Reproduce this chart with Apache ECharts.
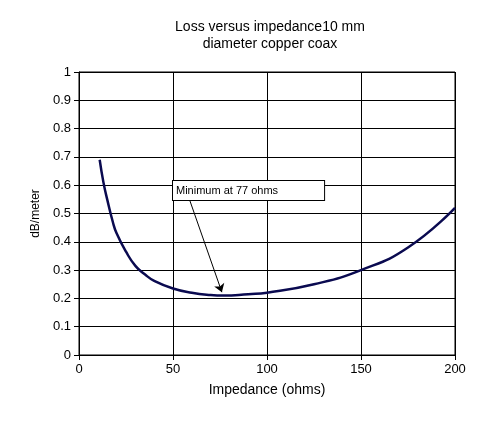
<!DOCTYPE html>
<html><head><meta charset="utf-8">
<script src="https://cdn.jsdelivr.net/npm/echarts@6/dist/echarts.min.js"></script>
<style>html,body{margin:0;padding:0;background:#fff}#c{width:503px;height:431px}</style>
</head><body><div id="c"></div>
<script>
const impedance = [11, 13, 15, 18, 20, 25, 30, 35, 40, 50, 60, 70, 77, 90, 100, 125, 150, 175, 200];
const loss = [0.69, 0.61, 0.55, 0.47, 0.43, 0.365, 0.315, 0.285, 0.262, 0.235, 0.22, 0.212, 0.21, 0.215, 0.22, 0.25, 0.30, 0.38, 0.52];
const yTicks = [0, 0.1, 0.2, 0.3, 0.4, 0.5, 0.6, 0.7, 0.8, 0.9, 1];
const annotation = 'Minimum at 77 ohms';
const chart = echarts.init(document.getElementById('c'));
const font = 'Liberation Sans, Arial, sans-serif';
chart.setOption({
  backgroundColor: '#fff',
  animation: false,
  title: { text: 'Loss versus impedance10 mm\ndiameter copper coax', left: 265, textAlign: 'center', top: 14,
    textStyle: { fontFamily: font, fontWeight: 'normal', fontSize: 14, color: '#000', lineHeight: 17 } },
  grid: { left: 79, right: 48, top: 72, bottom: 76, show: true, borderColor: '#000', borderWidth: 1 },
  xAxis: { type: 'value', min: 0, max: 200, interval: 50, name: 'Impedance (ohms)', nameLocation: 'middle', nameGap: 28,
    nameTextStyle: { fontFamily: font, fontSize: 14, color: '#000' },
    axisLine: { lineStyle: { color: '#000' } }, axisTick: { show: true, lineStyle: { color: '#000' } },
    axisLabel: { fontFamily: font, fontSize: 13, color: '#000' }, splitLine: { lineStyle: { color: '#000' } } },
  yAxis: { type: 'value', min: 0, max: 1, interval: 0.1, name: 'dB/meter', nameLocation: 'middle', nameGap: 36,
    nameTextStyle: { fontFamily: font, fontSize: 12, color: '#000' },
    axisLine: { show: true, lineStyle: { color: '#000' } }, axisTick: { show: true, lineStyle: { color: '#000' } },
    axisLabel: { fontFamily: font, fontSize: 13, color: '#000', formatter: v => yTicks.includes(+v.toFixed(1)) ? String(+v.toFixed(1)) : '' },
    splitLine: { lineStyle: { color: '#000' } } },
  series: [{
    type: 'line', smooth: true, symbol: 'none',
    data: impedance.map((x, i) => [x, loss[i]]),
    lineStyle: { color: '#0a0a50', width: 2.5 },
    markLine: { silent: true, symbol: ['none', 'arrow'], symbolSize: 8, label: { show: false },
      lineStyle: { color: '#000', width: 1, type: 'solid' },
      data: [[{ coord: [59, 0.545] }, { coord: [76, 0.222] }]] }
  }],
  graphic: [{ type: 'text', left: 172, top: 180, z: 100,
    style: { text: annotation, fontFamily: font, fontSize: 11, fill: '#000', backgroundColor: '#fff',
      borderColor: '#000', borderWidth: 1, padding: [4, 46, 4, 3] } }]
});
</script></body></html>
